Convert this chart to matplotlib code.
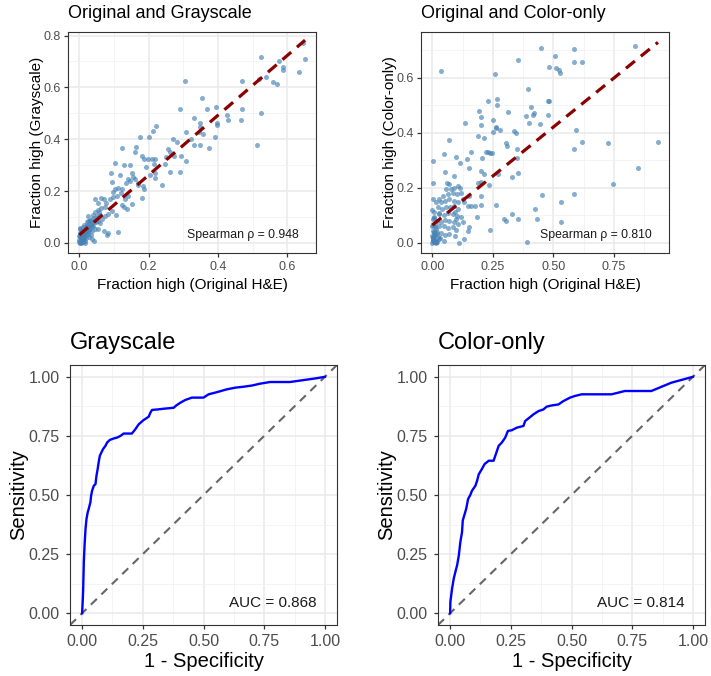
import numpy as np
import matplotlib
matplotlib.use("Agg")
import matplotlib.pyplot as plt
from matplotlib.ticker import MultipleLocator

plt.rcParams['font.family'] = ['Liberation Sans', 'DejaVu Sans']

# --- Original vs Grayscale fraction high ---
gray_x = [0.646, 0.651, 0.524, 0.577, 0.588, 0.588, 0.634, 0.519, 0.538, 0.558, 0.570,
          0.305, 0.470, 0.355, 0.291, 0.369, 0.394, 0.470, 0.525, 0.330, 0.348, 0.348,
          0.396, 0.398, 0.425, 0.429, 0.465, 0.308, 0.344, 0.358, 0.322, 0.347, 0.331,
          0.374, 0.392, 0.512, 0.270, 0.283, 0.176, 0.200, 0.213, 0.221, 0.163, 0.161,
          0.123, 0.257, 0.262, 0.294, 0.308, 0.250, 0.274, 0.181, 0.187, 0.197, 0.209,
          0.219, 0.192, 0.216, 0.246, 0.262, 0.291, 0.217, 0.204, 0.239, 0.219, 0.182,
          0.106, 0.080, 0.046, 0.097,
          0.091, 0.103, 0.129, 0.146, 0.117, 0.151, 0.155, 0.160, 0.141, 0.093, 0.136,
          0.147, 0.170, 0.103, 0.112, 0.122, 0.098, 0.120, 0.108, 0.062, 0.072, 0.076,
          0.055, 0.088, 0.141, 0.132, 0.170, 0.184, 0.187, 0.151, 0.122, 0.130, 0.138,
          0.074, 0.064, 0.053, 0.045, 0.039, 0.051, 0.060, 0.074, 0.084, 0.093, 0.026,
          0.032, 0.021, 0.026, 0.034, 0.043, 0.053, 0.060, 0.066, 0.040, 0.045, 0.036,
          0.055, 0.072, 0.082, 0.112, 0.028, 0.038, 0.043, 0.011, 0.007, 0.002, 0.016,
          0.000, 0.005, 0.014,
          0.002, 0.007, 0.011, 0.016, 0.021, 0.024, 0.009, 0.018, 0.000, 0.003, 0.026,
          0.031, 0.036, 0.014, 0.005, 0.012, 0.020, 0.028, 0.001, 0.006, 0.015, 0.022,
          0.030, 0.040, 0.048, 0.010, 0.004, 0.017, 0.033, 0.025, 0.008, 0.013, 0.019,
          0.000, 0.001, 0.003, 0.004, 0.006, 0.008, 0.010, 0.012, 0.002, 0.005, 0.007,
          0.009, 0.011, 0.014, 0.016, 0.019, 0.023, 0.027, 0.035, 0.042, 0.050, 0.058]
gray_y = [0.773, 0.708, 0.717, 0.702, 0.678, 0.666, 0.660, 0.634, 0.640, 0.620, 0.615,
          0.625, 0.625, 0.561, 0.516, 0.516, 0.523, 0.516, 0.503, 0.481, 0.463, 0.448,
          0.462, 0.455, 0.493, 0.474, 0.474, 0.428, 0.429, 0.421, 0.400, 0.379, 0.379,
          0.367, 0.408, 0.377, 0.402, 0.388, 0.408, 0.408, 0.431, 0.452, 0.369, 0.351,
          0.365, 0.362, 0.351, 0.334, 0.317, 0.333, 0.337, 0.334, 0.322, 0.324, 0.322,
          0.322, 0.292, 0.304, 0.304, 0.272, 0.272, 0.270, 0.261, 0.222, 0.249, 0.175,
          0.107, 0.032, 0.168, 0.176,
          0.270, 0.309, 0.302, 0.299, 0.264, 0.268, 0.255, 0.248, 0.245, 0.235, 0.232,
          0.239, 0.232, 0.209, 0.213, 0.209, 0.196, 0.194, 0.181, 0.175, 0.168, 0.156,
          0.156, 0.168, 0.181, 0.168, 0.222, 0.219, 0.209, 0.149, 0.145, 0.137, 0.130,
          0.137, 0.133, 0.128, 0.120, 0.107, 0.105, 0.107, 0.105, 0.111, 0.124, 0.105,
          0.085, 0.079, 0.066, 0.073, 0.079, 0.085, 0.077, 0.092, 0.064, 0.054, 0.047,
          0.054, 0.045, 0.038, 0.041, 0.022, 0.015, 0.006, 0.015, 0.003, 0.000, 0.000,
          0.026, 0.034, 0.041,
          0.054, 0.047, 0.060, 0.054, 0.047, 0.034, 0.026, 0.018, 0.010, 0.004, 0.041,
          0.054, 0.064, 0.068, 0.018, 0.008, 0.030, 0.060, 0.040, 0.012, 0.025, 0.070,
          0.090, 0.095, 0.080, 0.035, 0.028, 0.040, 0.030, 0.085, 0.002, 0.020, 0.062,
          0.005, 0.022, 0.032, 0.014, 0.044, 0.008, 0.050, 0.016, 0.058, 0.000, 0.024,
          0.036, 0.003, 0.030, 0.009, 0.048, 0.058, 0.050, 0.072, 0.088, 0.098, 0.118]

# --- Original vs Color-only fraction high ---
color_x = [0.835, 0.448, 0.584, 0.584, 0.617, 0.355, 0.507, 0.481, 0.510, 0.523, 0.526,
           0.258, 0.396, 0.480, 0.478, 0.229, 0.269, 0.269, 0.409, 0.420, 0.416, 0.313,
           0.194, 0.203, 0.201, 0.386, 0.400, 0.443, 0.477, 0.250, 0.261, 0.264, 0.280,
           0.249, 0.338, 0.345, 0.592, 0.188, 0.214, 0.303, 0.310, 0.348, 0.584, 0.619,
           0.725, 0.931, 0.222, 0.231, 0.238, 0.245, 0.207, 0.348, 0.203, 0.214, 0.271,
           0.352, 0.327, 0.190, 0.203, 0.234, 0.203, 0.746, 0.849, 0.584, 0.453, 0.533,
           0.262, 0.176, 0.201, 0.423, 0.327, 0.431, 0.352, 0.295, 0.304, 0.529, 0.183,
           0.238, 0.389,
           0.036, 0.135, 0.070, 0.047, 0.096, 0.143, 0.159, 0.115, 0.151, 0.052, 0.088,
           0.152, 0.093, 0.096, 0.093, 0.001, 0.001,
           0.061, 0.070, 0.056, 0.077, 0.091, 0.105, 0.116, 0.084, 0.102, 0.118, 0.063,
           0.043, 0.029, 0.015, 0.036, 0.052, 0.070, 0.088, 0.105, 0.125, 0.132, 0.022,
           0.039, 0.056, 0.074, 0.091, 0.107, 0.008, 0.029, 0.047, 0.063, 0.084, 0.102,
           0.118, 0.001, 0.019, 0.036, 0.052, 0.070, 0.088, 0.105, 0.125, 0.000, 0.011,
           0.029, 0.047, 0.063, 0.084, 0.098, 0.006, 0.019, 0.036, 0.052, 0.070, 0.001,
           0.015, 0.029, 0.047, 0.008, 0.000, 0.146, 0.159, 0.153, 0.146, 0.129, 0.111,
           0.004, 0.010, 0.003, 0.012, 0.006, 0.016, 0.002, 0.009, 0.020, 0.005,
           0.000, 0.002, 0.004, 0.007, 0.010, 0.013, 0.017, 0.024, 0.000, 0.003, 0.006,
           0.009, 0.014, 0.021, 0.026, 0.033]
color_y = [0.717, 0.707, 0.703, 0.656, 0.658, 0.666, 0.678, 0.639, 0.635, 0.627, 0.619,
           0.613, 0.560, 0.517, 0.514, 0.516, 0.523, 0.501, 0.494, 0.474, 0.464, 0.475,
           0.480, 0.457, 0.429, 0.462, 0.437, 0.434, 0.464, 0.448, 0.421, 0.419, 0.410,
           0.402, 0.405, 0.401, 0.409, 0.388, 0.380, 0.363, 0.351, 0.343, 0.342, 0.367,
           0.363, 0.367, 0.331, 0.330, 0.328, 0.326, 0.310, 0.309, 0.261, 0.249, 0.250,
           0.255, 0.240, 0.218, 0.222, 0.210, 0.171, 0.213, 0.273, 0.179, 0.174, 0.150,
           0.137, 0.135, 0.137, 0.125, 0.107, 0.087, 0.087, 0.087, 0.079, 0.075, 0.093,
           0.048, 0.002,
           0.625, 0.436, 0.373, 0.325, 0.312, 0.304, 0.330, 0.292, 0.274, 0.259, 0.243,
           0.171, 0.111, 0.087, 0.027, 0.297, 0.219,
           0.219, 0.213, 0.195, 0.195, 0.201, 0.207, 0.201, 0.183, 0.177, 0.183, 0.177,
           0.171, 0.159, 0.147, 0.147, 0.153, 0.159, 0.153, 0.147, 0.161, 0.147, 0.129,
           0.123, 0.129, 0.129, 0.135, 0.123, 0.111, 0.105, 0.101, 0.108, 0.105, 0.099,
           0.093, 0.087, 0.081, 0.077, 0.084, 0.081, 0.075, 0.069, 0.075, 0.063, 0.057,
           0.060, 0.060, 0.053, 0.057, 0.048, 0.039, 0.033, 0.036, 0.029, 0.033, 0.014,
           0.008, 0.014, 0.008, 0.002, 0.027, 0.135, 0.135, 0.057, 0.045, 0.014, 0.000,
           0.045, 0.070, 0.020, 0.030, 0.095, 0.050, 0.010, 0.005, 0.040, 0.065,
           0.000, 0.018, 0.006, 0.024, 0.003, 0.012, 0.002, 0.020, 0.120, 0.160, 0.090,
           0.035, 0.000, 0.004, 0.110, 0.018]

# linear fit lines (intercept, slope)
gray_fit = (0.031, 1.154)
color_fit = (0.065, 0.713)
gray_rho = 0.948
color_rho = 0.810

# --- ROC curves ---
roc_gray_fpr = [0.0, 0.004, 0.007, 0.010, 0.014, 0.018, 0.023, 0.027, 0.034, 0.037, 0.041,
                0.048, 0.055, 0.059, 0.064, 0.068, 0.073, 0.078, 0.086, 0.096, 0.103, 0.114,
                0.130, 0.144, 0.158, 0.171, 0.205, 0.219, 0.233, 0.253, 0.274, 0.281, 0.288,
                0.311, 0.336, 0.377, 0.388, 0.404, 0.425, 0.452, 0.500, 0.521, 0.555, 0.596,
                0.630, 0.664, 0.699, 0.733, 0.774, 0.856, 0.911, 0.966, 1.0]
roc_gray_tpr = [0.0, 0.090, 0.218, 0.287, 0.357, 0.399, 0.427, 0.441, 0.469, 0.497, 0.518,
                0.539, 0.546, 0.581, 0.610, 0.638, 0.666, 0.677, 0.694, 0.708, 0.722, 0.733,
                0.739, 0.743, 0.750, 0.760, 0.760, 0.778, 0.799, 0.817, 0.831, 0.848, 0.860,
                0.862, 0.865, 0.869, 0.879, 0.890, 0.902, 0.912, 0.912, 0.926, 0.935, 0.947,
                0.954, 0.958, 0.963, 0.971, 0.978, 0.978, 0.986, 0.994, 1.0]
roc_color_fpr = [0.0, 0.001, 0.008, 0.015, 0.022, 0.029, 0.036, 0.042, 0.049, 0.052, 0.060,
                 0.066, 0.074, 0.083, 0.090, 0.104, 0.111, 0.118, 0.131, 0.142, 0.159, 0.179,
                 0.186, 0.200, 0.213, 0.227, 0.238, 0.254, 0.275, 0.302, 0.309, 0.330, 0.343,
                 0.364, 0.384, 0.398, 0.419, 0.446, 0.466, 0.494, 0.514, 0.542, 0.665, 0.720,
                 0.829, 0.911, 1.0]
roc_color_tpr = [0.0, 0.048, 0.104, 0.147, 0.176, 0.204, 0.246, 0.301, 0.343, 0.392, 0.420,
                 0.441, 0.483, 0.500, 0.518, 0.539, 0.560, 0.588, 0.610, 0.631, 0.645, 0.645,
                 0.666, 0.708, 0.722, 0.743, 0.771, 0.774, 0.785, 0.792, 0.813, 0.830, 0.841,
                 0.855, 0.862, 0.874, 0.879, 0.883, 0.897, 0.912, 0.919, 0.926, 0.926, 0.940,
                 0.940, 0.975, 1.0]
auc_gray = 0.868
auc_color = 0.814

W, H = 711, 676
fig = plt.figure(figsize=(W / 100, H / 100), dpi=100)


def box(x0, y0, x1, y1):
    # pixel box -> figure fraction
    return [x0 / W, 1 - y1 / H, (x1 - x0) / W, (y1 - y0) / H]


def bw_style(ax, major, minor, tick_size, xpad, ypad):
    ax.set_facecolor('white')
    ax.xaxis.set_major_locator(MultipleLocator(major[0]))
    ax.xaxis.set_minor_locator(MultipleLocator(minor[0]))
    ax.yaxis.set_major_locator(MultipleLocator(major[1]))
    ax.yaxis.set_minor_locator(MultipleLocator(minor[1]))
    ax.grid(which='major', color='#EBEBEB', lw=1.2, zorder=0)
    ax.grid(which='minor', color='#F2F2F2', lw=0.6, zorder=0)
    ax.set_axisbelow(True)
    for s in ax.spines.values():
        s.set_color('#333333')
        s.set_linewidth(0.8)
    ax.tick_params(which='major', length=3, width=0.9, color='#333333',
                   labelsize=tick_size, labelcolor='#4D4D4D')
    ax.tick_params(axis='x', pad=xpad)
    ax.tick_params(axis='y', pad=ypad)
    ax.tick_params(which='minor', length=0)


def scatter_panel(rect, x, y, fit, rho, xlim, ylim, xmajor, ymajor, title, ylabel, rho_pos):
    ax = fig.add_axes(box(*rect))
    bw_style(ax, (xmajor, ymajor), (xmajor / 2, ymajor / 2), 9, 3, 2)
    ax.scatter(x, y, s=13, color='#4682B4', alpha=0.65, lw=0, zorder=2)
    xs = np.array([min(x), max(x)])
    ax.plot(xs, fit[0] + fit[1] * xs, color='#8B0000', lw=2.3, dashes=(3.6, 2.4),
            zorder=3)
    ax.set_xlim(*xlim)
    ax.set_ylim(*ylim)
    ax.text(rho_pos[0], rho_pos[1], f'Spearman \u03c1 = {rho:.3f}', fontsize=8.8,
            color='#1A1A1A', ha='center', va='center')
    ax.set_xlabel('Fraction high (Original H&E)', fontsize=11, labelpad=3)
    ax.set_ylabel(ylabel, fontsize=11, labelpad=0)
    fig.text(rect[0] / W, 1 - 18.5 / H, title, fontsize=13, ha='left', va='baseline')
    return ax


def roc_panel(rect, fpr, tpr, auc, title):
    ax = fig.add_axes(box(*rect))
    bw_style(ax, (0.25, 0.25), (0.125, 0.125), 11.5, 3.5, 4.5)
    ax.axline((0, 0), slope=1, color='#666666', lw=1.5, dashes=(4, 3), zorder=2)
    ax.plot(fpr, tpr, color='#0000FF', lw=1.7, zorder=3)
    ax.set_xlim(-0.05, 1.05)
    ax.set_ylim(-0.05, 1.05)
    ax.xaxis.set_major_formatter(lambda v, p: f'{v:.2f}')
    ax.yaxis.set_major_formatter(lambda v, p: f'{v:.2f}')
    ax.text(0.785, 0.045, f'AUC = {auc:.3f}', fontsize=11, color='#1A1A1A',
            ha='center', va='center')
    ax.set_xlabel('1 - Specificity', fontsize=14.5, labelpad=2)
    ax.set_ylabel('Sensitivity', fontsize=14.5, labelpad=0)
    fig.text(rect[0] / W, 1 - 349.5 / H, title, fontsize=17, ha='left', va='baseline')
    return ax


scatter_panel((68, 32, 316, 253), gray_x, gray_y, gray_fit, gray_rho,
              (-0.0325, 0.6825), (-0.0387, 0.8137), 0.2, 0.2,
              'Original and Grayscale', 'Fraction high (Grayscale)', (0.471, 0.032))
scatter_panel((421, 32, 669, 253), color_x, color_y, color_fit, color_rho,
              (-0.0465, 0.9765), (-0.0365, 0.7665), 0.25, 0.2,
              'Original and Color-only', 'Fraction high (Color-only)', (0.676, 0.030))
roc_panel((70, 365, 337, 625), roc_gray_fpr, roc_gray_tpr, auc_gray, 'Grayscale')
roc_panel((438, 365, 705, 625), roc_color_fpr, roc_color_tpr, auc_color, 'Color-only')

fig.savefig('out.png', dpi=100)
